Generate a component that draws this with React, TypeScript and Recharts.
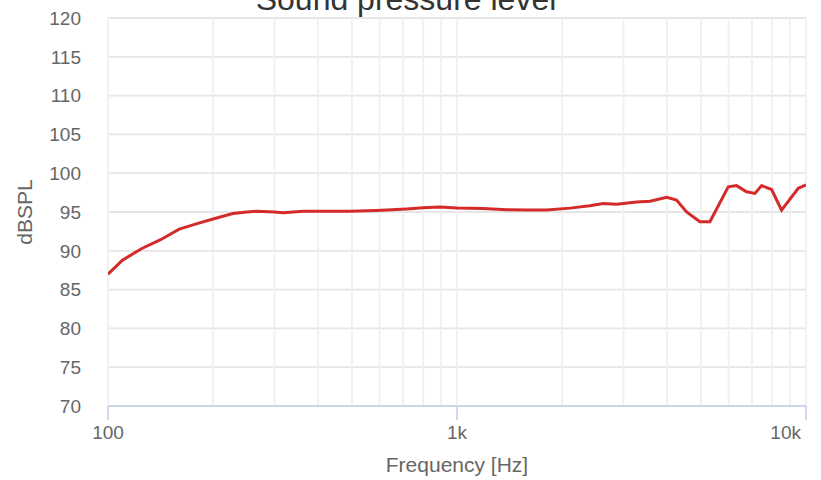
import React from "react";
import {
  LineChart,
  Line,
  XAxis,
  YAxis,
  CartesianGrid,
  ReferenceLine,
} from "recharts";

const freqs = [
  100, 110, 125, 141, 160, 180, 200, 228, 250, 267, 300, 318, 362, 420, 493,
  588, 650, 717, 800, 893, 1000, 1189, 1387, 1600, 1806, 2108, 2400, 2626,
  2866, 3272, 3575, 3990, 4257, 4548, 4966, 5305, 5987, 6326, 6756, 7140,
  7464, 7970, 8510, 9502, 10000,
];
const spl = [
  87.0, 88.8, 90.3, 91.4, 92.8, 93.5, 94.1, 94.8, 95.0, 95.1, 95.0, 94.9,
  95.1, 95.1, 95.1, 95.2, 95.3, 95.4, 95.55, 95.65, 95.5, 95.45, 95.3, 95.25,
  95.25, 95.5, 95.8, 96.1, 96.0, 96.3, 96.4, 96.9, 96.55, 95.0, 93.75, 93.75,
  98.25, 98.4, 97.6, 97.4, 98.4, 97.9, 95.25, 98.05, 98.5,
];

const xTickValues = [100, 1000, 10000];
const xTickLabels = ["100", "1k", "10k"];
const yTicks = [70, 75, 80, 85, 90, 95, 100, 105, 110, 115, 120];
const gridFreqs = [
  100, 200, 300, 400, 500, 600, 700, 800, 900, 1000, 2000, 3000, 4000, 5000,
  6000, 7000, 8000, 9000, 10000,
];

const data = freqs.map((f, i) => ({ f, v: spl[i] }));

const FONT = '"Liberation Sans", Arial, sans-serif';

function XTick({ x, y, payload }: any) {
  const i = xTickValues.indexOf(payload.value);
  const last = payload.value === 10000;
  return (
    <text
      x={x}
      y={y + 14}
      textAnchor={last ? "end" : "middle"}
      fill="#666666"
      fontSize={19}
      fontFamily={FONT}
    >
      {xTickLabels[i]}
    </text>
  );
}

export default function App() {
  return (
    <div style={{ position: "absolute", left: 0, top: 0, width: 821, height: 480, background: "#fff" }}>
      <LineChart
        width={821}
        height={480}
        data={data}
        margin={{ top: 18, right: 15, left: 48, bottom: 0 }}
      >
        <CartesianGrid vertical={false} stroke="#e6e6e6" strokeWidth={1.8} />
        {gridFreqs.map((g) => (
          <ReferenceLine key={g} x={g} stroke="#f0f0f0" strokeWidth={1.8} />
        ))}
        <XAxis
          dataKey="f"
          type="number"
          scale="log"
          domain={[100, 10000]}
          ticks={xTickValues}
          allowDataOverflow
          height={74}
          tickSize={14}
          tickMargin={5}
          tickLine={{ stroke: "#ccd6eb", strokeWidth: 1.8 }}
          axisLine={{ stroke: "#ccd6eb", strokeWidth: 2 }}
          tick={<XTick />}
        />
        <YAxis
          type="number"
          domain={[70, 120]}
          ticks={yTicks}
          width={60}
          tickSize={0}
          tickMargin={27}
          tickLine={false}
          axisLine={false}
          tick={{ fill: "#666666", fontSize: 19, fontFamily: FONT }}
        />
        <Line
          type="linear"
          dataKey="v"
          stroke="#d42a2a"
          strokeWidth={3}
          dot={false}
          isAnimationActive={false}
        />
      </LineChart>
      <svg
        width={821}
        height={480}
        style={{ position: "absolute", left: 0, top: 0, pointerEvents: "none" }}
      >
        <text x={406} y={10} textAnchor="middle" fill="#333333" fontSize={32} fontFamily={FONT}>
          Sound pressure level
        </text>
        <text x={457} y={472} textAnchor="middle" fill="#666666" fontSize={21} fontFamily={FONT}>
          Frequency [Hz]
        </text>
        <text
          x={32}
          y={212}
          textAnchor="middle"
          fill="#666666"
          fontSize={21}
          fontFamily={FONT}
          transform="rotate(-90 32 212)"
        >
          dBSPL
        </text>
      </svg>
    </div>
  );
}
